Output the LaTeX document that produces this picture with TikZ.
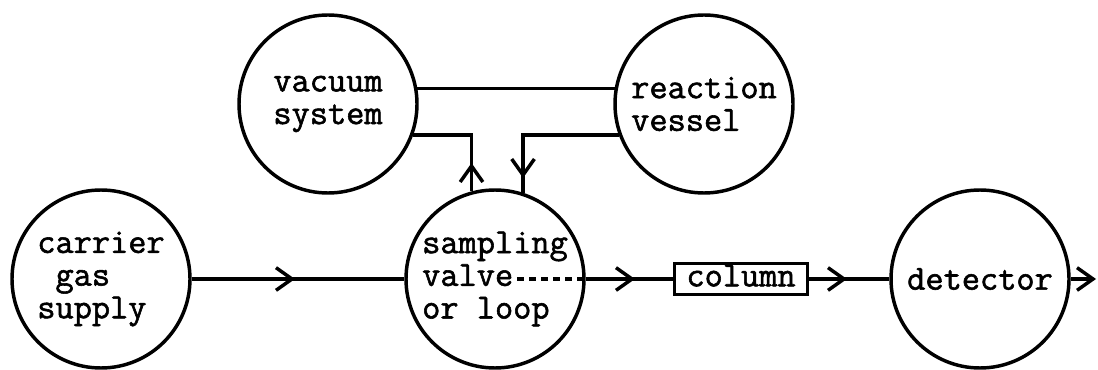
\documentclass[tikz,border=0pt]{standalone}
\usepackage{fontspec}
\setmonofont{Latin Modern Mono}[FakeBold=1.6]
\usetikzlibrary{arrows.meta}

\tikzset{every picture/.style={line width=2.6pt},
  unit/.style={draw, circle, minimum size=133.5pt, inner sep=0pt, align=left,
    font=\ttfamily\fontsize{26.5}{24.5}\selectfont},
  colbox/.style={draw, rectangle, minimum width=100pt, minimum height=23pt, inner sep=0pt,
    text height=16pt, text depth=5pt, font=\ttfamily\fontsize{26.5}{24.5}\selectfont},
  flow/.style={-{Straight Barb[length=12pt,width=17pt]}},
  valveline/.style={dash pattern=on 5.5pt off 3.5pt}}

\begin{document}
\begin{tikzpicture}[x=0.75pt,y=0.75pt,yscale=-1]
\useasboundingbox (0,0) rectangle (1098,370);

%Shape: Circle
\node[unit] (vac) at (328,104) {vacuum\\system};
%Shape: Circle
\node[unit] (rea) at (704,104) {reaction\\vessel};
%Shape: Circle
\node[unit] (car) at (101,279) {carrier\\\phantom{c}gas\\supply};
%Shape: Circle
\node[unit] (sam) at (495,279) {sampling\\valve\\or loop};
%Shape: Circle
\node[unit] (det) at (980,279) {detector};
%Shape: Rectangle
\node[colbox] (col) at (741,279) {column};

%arrow heads on the lines
\coordinate (upt) at (sam.105 |- 0,163);
\coordinate (dnt) at (sam.72 |- 0,178);
\coordinate (a1) at (295,279);
\coordinate (vend) at (517,279);
\coordinate (a2) at (635,279);
\coordinate (a3) at (847,279);
\coordinate (out) at (1096,279);

%Straight Lines
\draw (vac.10) -- (rea.170);
%Straight Lines
\draw (sam.105) |- (vac.-20);
\draw[flow] (sam.105) -- (upt);
%Straight Lines
\draw (rea.200) -| (sam.72);
\draw[flow] (rea.200) -| (dnt);
%Straight Lines
\draw (car) -- (sam);
\draw[flow] (car) -- (a1);
\draw[valveline] (vend) -- (sam.east);
%Straight Lines
\draw (sam) -- (col);
\draw[flow] (sam) -- (a2);
%Straight Lines
\draw (col) -- (det);
\draw[flow] (col) -- (a3);
\draw[flow] (det) -- (out);

\end{tikzpicture}
\end{document}
